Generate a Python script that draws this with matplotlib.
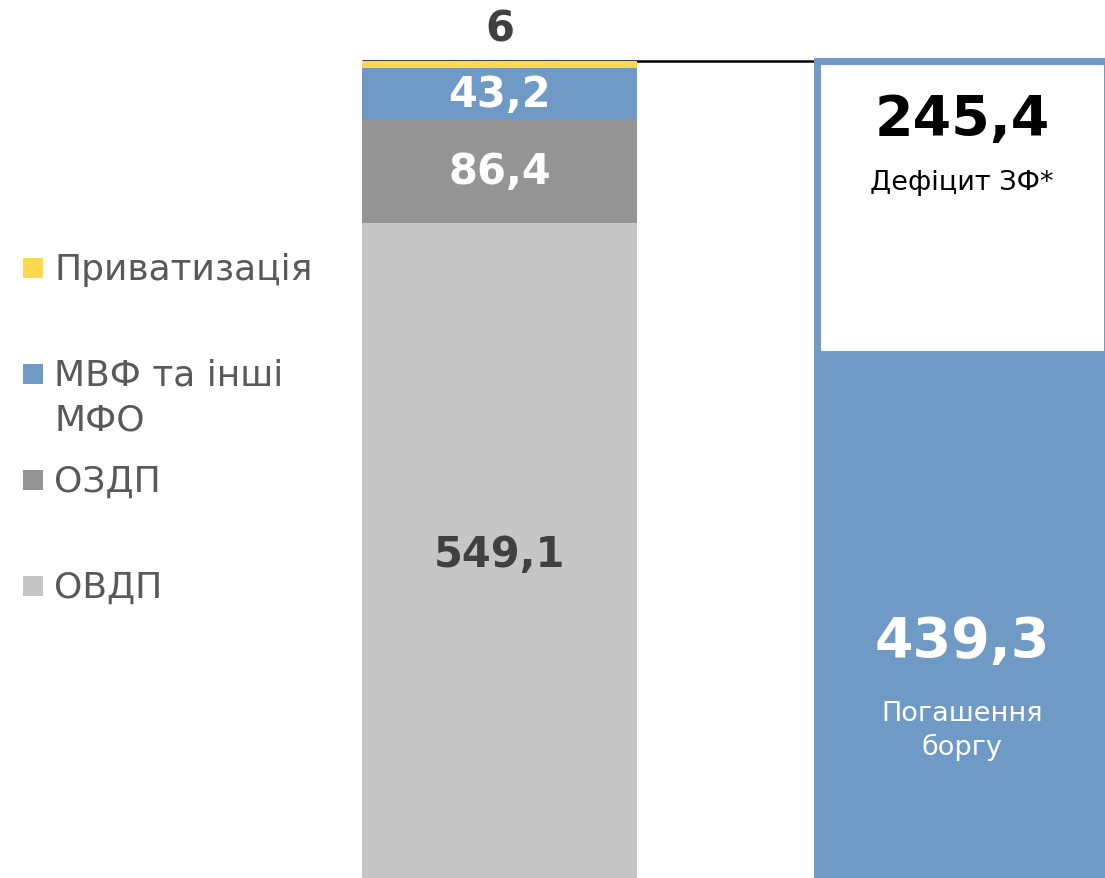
import matplotlib
matplotlib.use("Agg")
import matplotlib.pyplot as plt
from matplotlib.patches import Rectangle

plt.rcParams["font.family"] = ["DejaVu Sans"]

# ── дані ────────────────────────────────────────────────────────────────────
sources = ["ОВДП", "ОЗДП", "МВФ та інші\nМФО", "Приватизація"]
source_values = [549.1, 86.4, 43.2, 6.0]
uses = ["Погашення\nборгу", "Дефіцит ЗФ*"]
use_values = [439.3, 245.4]

C_YELLOW = "#FFD84D"
C_BLUE = "#709AC6"
C_DARK = "#959595"
C_LIGHT = "#C6C6C6"
source_colors = [C_LIGHT, C_DARK, C_BLUE, C_YELLOW]
TXT_DARK = "#404040"
TXT_LEGEND = "#595959"

W, H = 1105, 879
fig = plt.figure(figsize=(W / 100, H / 100), dpi=100)
ax = fig.add_axes([0, 0, 1, 1])
ax.set_axis_off()

total = sum(source_values)
px_per_unit = (H - 62) / total
ax.set_ylim(0, H / px_per_unit)
ax.set_xlim(-499.5 / 462.5, (W - 499.5) / 462.5)


def fmt(v):
    return f"{v:.1f}".replace(".", ",")


# лінія на рівні загальної суми
left_w, right_w = 0.595, 0.627
ax.hlines(total, 0 - left_w / 2, 2, color="black", lw=1.8, zorder=1)

# ── ліва колонка: джерела ──────────────────────────────────────────────────
bottom = 0
for val, col in zip(source_values, source_colors):
    ax.bar(0, val, bottom=bottom, width=left_w, color=col, zorder=2)
    bottom += val

src_bottoms = [sum(source_values[:i]) for i in range(len(source_values))]
label_colors = [TXT_DARK, "white", "white"]
label_shift = [-4, 0, 0]
for i in range(3):
    ax.annotate(fmt(source_values[i]), (0, src_bottoms[i] + source_values[i] / 2),
                xytext=(0, label_shift[i]), textcoords="offset pixels",
                ha="center", va="center", fontsize=30, fontweight="bold",
                color=label_colors[i], zorder=3)
ax.annotate(f"{source_values[3]:.0f}", (0, total), xytext=(0, 33), textcoords="offset pixels",
            ha="center", va="center", fontsize=30, fontweight="bold", color=TXT_DARK)

# ── права колонка: використання ────────────────────────────────────────────
ax.bar(1, use_values[0], width=right_w, color=C_BLUE, edgecolor=C_BLUE, lw=5, zorder=2)
ax.bar(1, use_values[1], bottom=use_values[0], width=right_w, color="white",
       edgecolor=C_BLUE, lw=5, zorder=2)

ax.annotate(fmt(use_values[1]), (1, total), xytext=(0, -58),
            textcoords="offset pixels", ha="center", va="center",
            fontsize=40, fontweight="bold", color="black", zorder=3)
ax.annotate(uses[1], (1, total), xytext=(0, -121), textcoords="offset pixels",
            ha="center", va="center", fontsize=19.5, color="black", zorder=3)
ax.annotate(fmt(use_values[0]), (1, use_values[0]), xytext=(0, -287),
            textcoords="offset pixels", ha="center", va="center",
            fontsize=40, fontweight="bold", color="white", zorder=3)
ax.annotate(uses[0], (1, use_values[0]), xytext=(0, -376), textcoords="offset pixels",
            ha="center", va="center", fontsize=19.5, color="white", linespacing=1.3, zorder=3)

# ── легенда ────────────────────────────────────────────────────────────────
legend_rows = [(3, 269, 270), (2, 375, 398), (1, 481, 482), (0, 587, 588)]
for idx, y_mark, y_txt in legend_rows:
    fig.add_artist(Rectangle((23 / W, 1 - (y_mark + 10) / H), 20 / W, 20 / H,
                             transform=fig.transFigure, color=source_colors[idx], lw=0))
    fig.text(54 / W, 1 - y_txt / H, sources[idx], ha="left", va="center",
             fontsize=26, color=TXT_LEGEND, linespacing=1.38)

fig.savefig("out.png", dpi=100)
